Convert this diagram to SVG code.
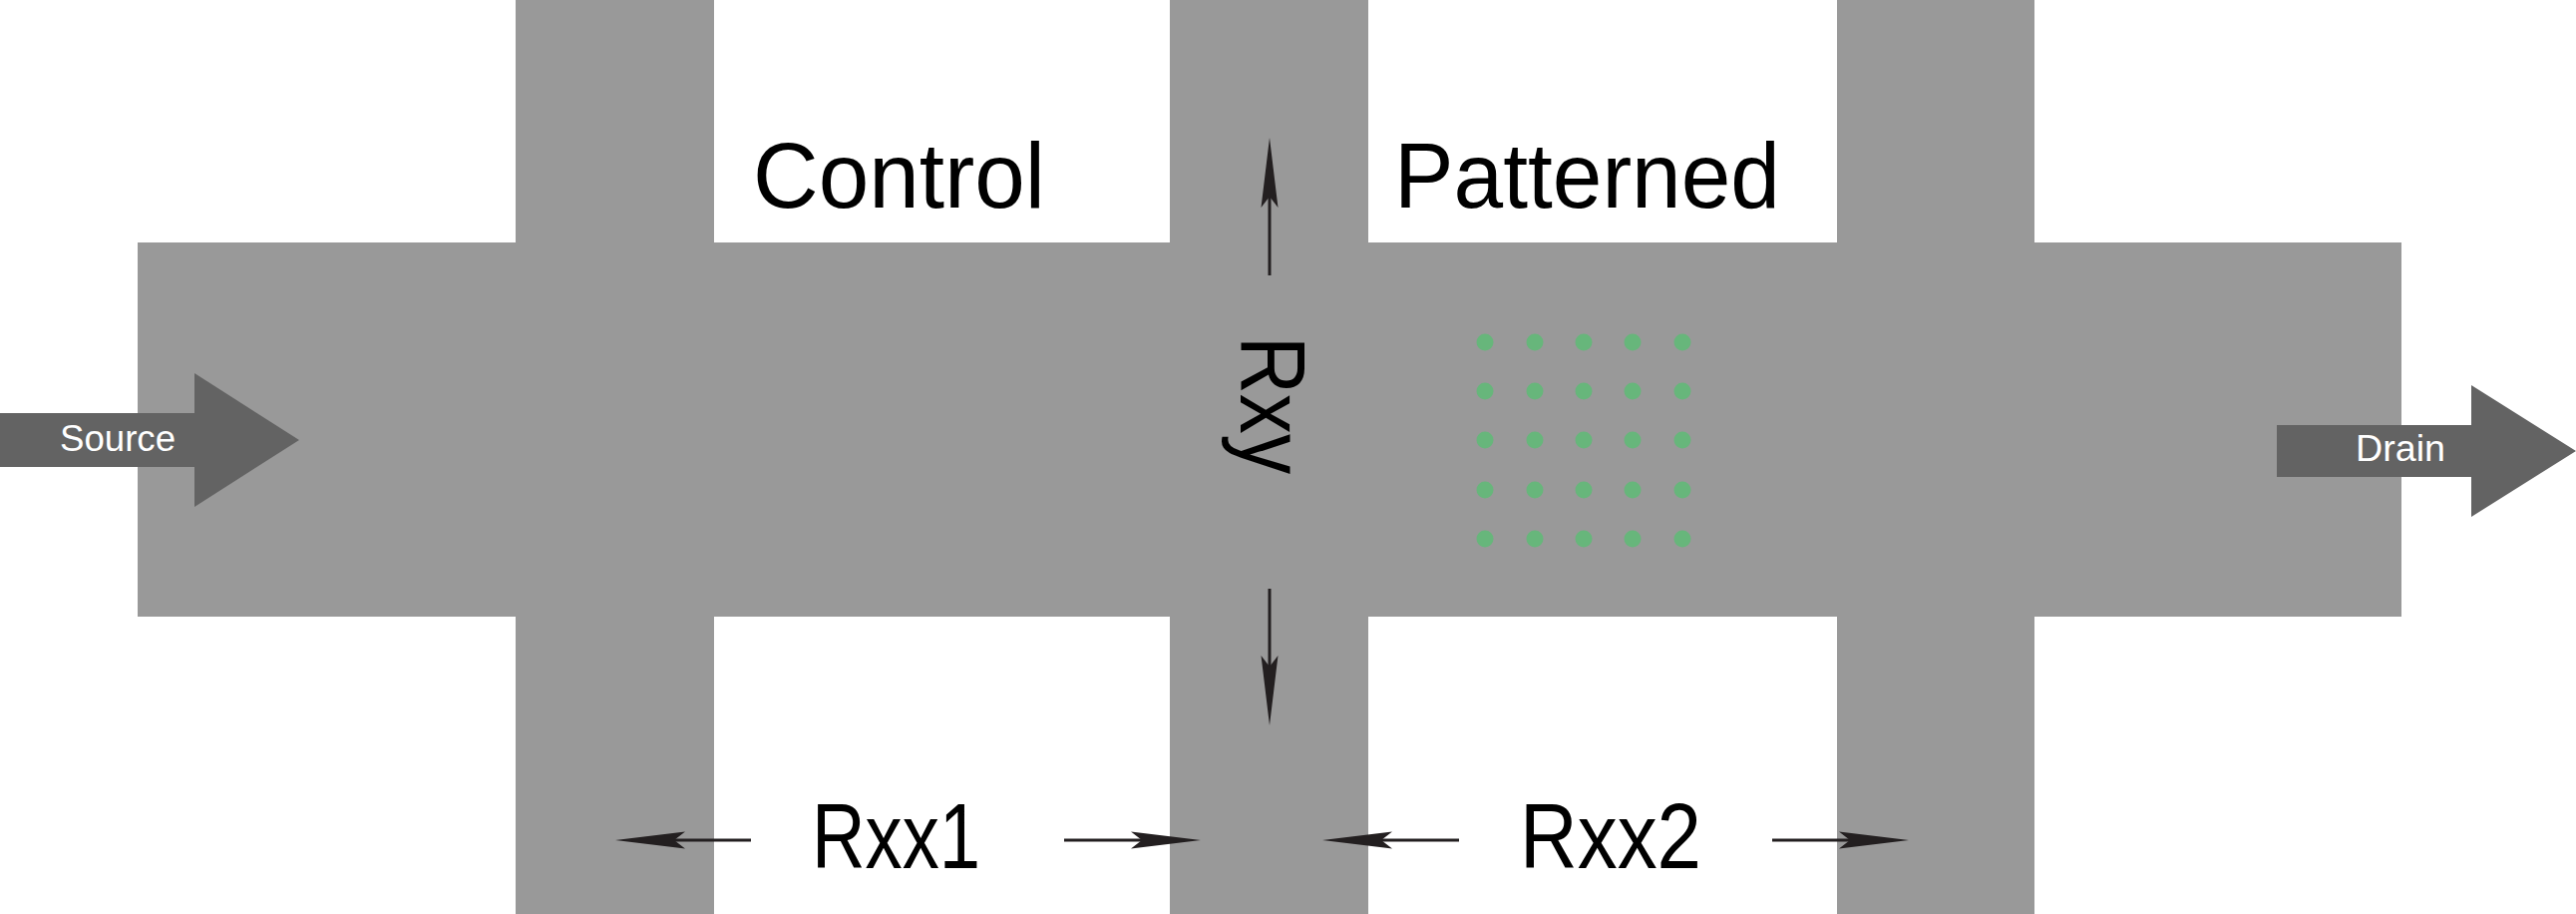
<svg xmlns="http://www.w3.org/2000/svg" width="2583" height="916" viewBox="0 0 2583 916">
  <style>
    .chan { fill: #999999; }
    .io { fill: #636363; }
    .iotext { font-family: "Liberation Sans", Arial, sans-serif; font-size: 37px; fill: #ffffff; }
    .label { font-family: "Liberation Sans", Arial, sans-serif; font-size: 92px; fill: #000000; }
    .dot { fill: #67b67b; }
    .meas { stroke: #231f20; stroke-width: 3; fill: none; marker-end: url(#head); }
  </style>
  <defs>
    <marker id="head" markerUnits="userSpaceOnUse" markerWidth="80" markerHeight="20" viewBox="0 -10 80 20" refX="11" refY="0" orient="auto">
      <path d="M70,0 L0,-8.5 L11,0 L0,8.5 Z" fill="#231f20"/>
    </marker>
  </defs>
  <rect width="2583" height="916" fill="#ffffff"/>

  <g id="hallbar">
    <rect class="chan" x="138" y="243" width="2270" height="375"/>
    <rect class="chan" x="517" y="0" width="199" height="916"/>
    <rect class="chan" x="1173" y="0" width="199" height="916"/>
    <rect class="chan" x="1842" y="0" width="198" height="916"/>
  </g>

  <g id="pattern">
    <circle class="dot" cx="1489" cy="343" r="8.5"/><circle class="dot" cx="1539" cy="343" r="8.5"/><circle class="dot" cx="1588" cy="343" r="8.5"/><circle class="dot" cx="1637" cy="343" r="8.5"/><circle class="dot" cx="1687" cy="343" r="8.5"/>
    <circle class="dot" cx="1489" cy="392" r="8.5"/><circle class="dot" cx="1539" cy="392" r="8.5"/><circle class="dot" cx="1588" cy="392" r="8.5"/><circle class="dot" cx="1637" cy="392" r="8.5"/><circle class="dot" cx="1687" cy="392" r="8.5"/>
    <circle class="dot" cx="1489" cy="441" r="8.5"/><circle class="dot" cx="1539" cy="441" r="8.5"/><circle class="dot" cx="1588" cy="441" r="8.5"/><circle class="dot" cx="1637" cy="441" r="8.5"/><circle class="dot" cx="1687" cy="441" r="8.5"/>
    <circle class="dot" cx="1489" cy="491" r="8.5"/><circle class="dot" cx="1539" cy="491" r="8.5"/><circle class="dot" cx="1588" cy="491" r="8.5"/><circle class="dot" cx="1637" cy="491" r="8.5"/><circle class="dot" cx="1687" cy="491" r="8.5"/>
    <circle class="dot" cx="1489" cy="540" r="8.5"/><circle class="dot" cx="1539" cy="540" r="8.5"/><circle class="dot" cx="1588" cy="540" r="8.5"/><circle class="dot" cx="1637" cy="540" r="8.5"/><circle class="dot" cx="1687" cy="540" r="8.5"/>
  </g>

  <g id="source">
    <polygon class="io" points="0,414 195,414 195,374 300,441 195,508 195,468 0,468"/>
    <text class="iotext" x="60" y="452" textLength="116" lengthAdjust="spacingAndGlyphs">Source</text>
  </g>

  <g id="drain">
    <polygon class="io" points="2283,426 2478,426 2478,386 2583,452 2478,518 2478,478 2283,478"/>
    <text class="iotext" x="2362" y="462" textLength="90" lengthAdjust="spacingAndGlyphs">Drain</text>
  </g>

  <g id="labels">
    <text class="label" x="755" y="208" textLength="293" lengthAdjust="spacingAndGlyphs">Control</text>
    <text class="label" x="1398" y="208" textLength="387" lengthAdjust="spacingAndGlyphs">Patterned</text>
    <text class="label" transform="translate(1244,337) rotate(90)" x="0" y="0" textLength="138" lengthAdjust="spacingAndGlyphs">Rxy</text>
    <text class="label" x="814" y="870" textLength="169" lengthAdjust="spacingAndGlyphs">Rxx1</text>
    <text class="label" x="1524" y="870" textLength="182" lengthAdjust="spacingAndGlyphs">Rxx2</text>
  </g>

  <g id="connectors">
    <line class="meas" x1="1273" y1="276" x2="1273" y2="197"/>
    <line class="meas" x1="1273" y1="590" x2="1273" y2="668"/>
    <line class="meas" x1="753" y1="842" x2="676" y2="842"/>
    <line class="meas" x1="1067" y1="842" x2="1145" y2="842"/>
    <line class="meas" x1="1463" y1="842" x2="1385" y2="842"/>
    <line class="meas" x1="1777" y1="842" x2="1855" y2="842"/>
  </g>
</svg>
